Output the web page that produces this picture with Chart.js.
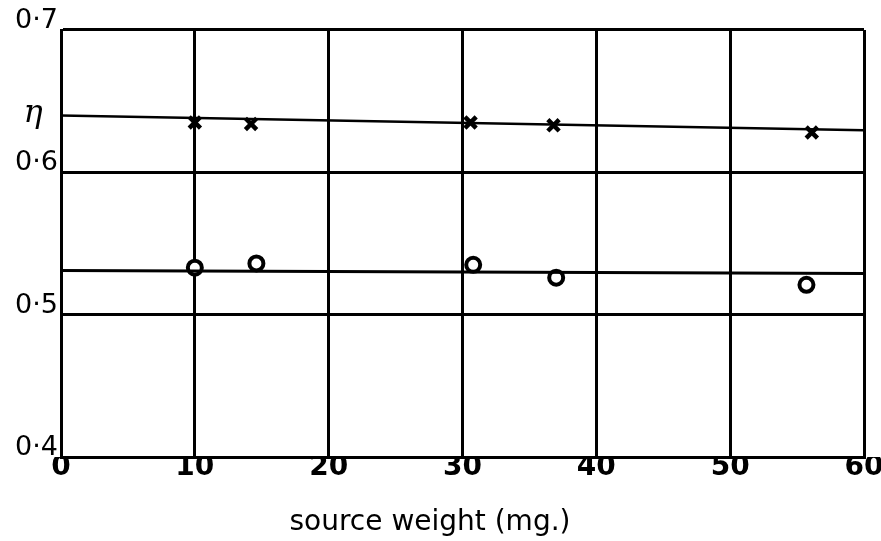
<!DOCTYPE html>
<html>
<head>
<meta charset="utf-8">
<script src="https://cdn.jsdelivr.net/npm/chart.js@4/dist/chart.umd.min.js"></script>
<style>
  html, body { margin: 0; padding: 0; background: #fff; }
  #wrap { width: 881px; height: 541px; }
</style>
</head>
<body>
<div id="wrap"><canvas id="grafico"></canvas></div>
<script>
// valores
const xTicks = [0, 10, 20, 30, 40, 50, 60];
const yTickLabels = ['0·4', '0·5', '0·6', '0·7'];
const crossX = [10, 14.2, 30.6, 36.8, 56.1];
const crossY = [0.635, 0.634, 0.635, 0.633, 0.628];
const circleX = [10, 14.6, 30.8, 37.0, 55.7];
const circleY = [0.533, 0.536, 0.535, 0.526, 0.521];
const upperFitX = [0, 60];
const upperFitY = [0.640, 0.6295];
const lowerFitX = [0, 60];
const lowerFitY = [0.531, 0.529];
const etaLabel = 'η';
const etaValue = 0.64;
const xTitle = 'source weight (mg.)';

const toPoints = (xs, ys) => xs.map((x, i) => ({ x: x, y: ys[i] }));

// letra eta y titulo del eje x
const textosPlugin = {
  id: 'textosPlugin',
  afterDraw(chart) {
    const ctx = chart.ctx;
    const y = chart.scales.y.getPixelForValue(etaValue);
    ctx.save();
    ctx.fillStyle = '#000';
    ctx.textAlign = 'center';
    ctx.textBaseline = 'middle';
    ctx.font = 'italic 32px "DejaVu Serif"';
    ctx.fillText(etaLabel, 33, y - 2);
    ctx.font = '28px "DejaVu Sans"';
    ctx.fillText(xTitle, 430, 523);
    ctx.restore();
  }
};

const datos = {
  datasets: [
    {
      label: 'upper',
      type: 'line',
      data: toPoints(upperFitX, upperFitY),
      borderColor: '#000',
      borderWidth: 2.5,
      pointRadius: 0,
      fill: false
    },
    {
      label: 'lower',
      type: 'line',
      data: toPoints(lowerFitX, lowerFitY),
      borderColor: '#000',
      borderWidth: 3,
      pointRadius: 0,
      fill: false
    },
    {
      label: 'crosses',
      data: toPoints(crossX, crossY),
      pointStyle: 'crossRot',
      pointRadius: 8,
      borderColor: '#000',
      borderWidth: 4.5
    },
    {
      label: 'circles',
      data: toPoints(circleX, circleY),
      pointStyle: 'circle',
      pointRadius: 7,
      backgroundColor: '#fff',
      borderColor: '#000',
      borderWidth: 4
    }
  ]
};

const opciones = {
  responsive: true,
  maintainAspectRatio: false,
  animation: false,
  layout: { padding: { top: 30, right: 17, bottom: 0, left: 0 } },
  plugins: {
    legend: { display: false },
    tooltip: { enabled: false }
  },
  scales: {
    x: {
      type: 'linear',
      min: 0,
      max: 60,
      afterBuildTicks: (axis) => { axis.ticks = xTicks.map(v => ({ value: v })); },
      afterFit: (axis) => { axis.height = 84; },
      grid: { color: '#000', lineWidth: 3, drawTicks: false },
      border: { color: '#000', width: 3 },
      ticks: {
        padding: -6,
        color: '#000',
        font: { family: '"DejaVu Sans"', size: 28, weight: 'bold' },
        callback: (v) => String(v)
      }
    },
    y: {
      type: 'linear',
      min: 0.4,
      max: 0.7,
      afterBuildTicks: (axis) => { axis.ticks = yTickLabels.map((t, i) => ({ value: 0.4 + i * 0.1 })); },
      afterFit: (axis) => { axis.width = 61; },
      grid: { color: '#000', lineWidth: 3, drawTicks: false },
      border: { color: '#000', width: 3 },
      ticks: {
        padding: 3,
        labelOffset: -9,
        color: '#000',
        font: { family: '"DejaVu Sans"', size: 27 },
        callback: (v, i) => yTickLabels[i]
      }
    }
  }
};

new Chart('grafico', { type: 'scatter', data: datos, options: opciones, plugins: [textosPlugin] });
</script>
</body>
</html>
